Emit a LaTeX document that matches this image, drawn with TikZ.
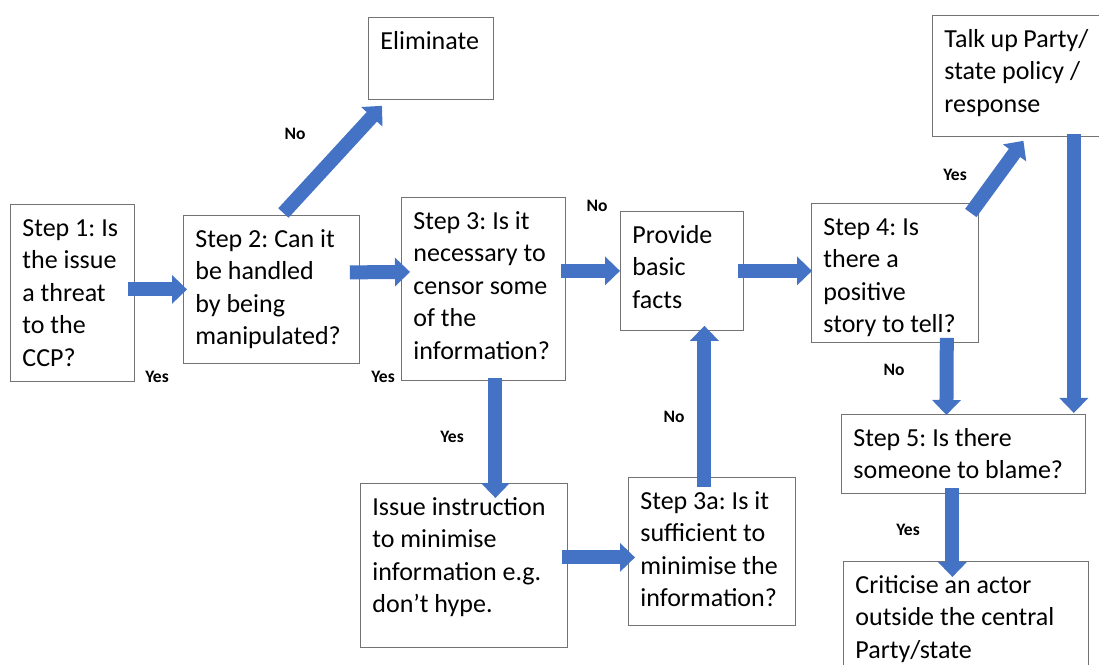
\documentclass[tikz,border=0pt]{standalone}
\usepackage{fontspec}
\setmainfont{Carlito}
\usetikzlibrary{arrows.meta}
\definecolor{arrowblue}{RGB}{68,114,196}
\frenchspacing
\begin{document}
\begin{tikzpicture}[x=1pt,y=1pt,
  box/.style 2 args={draw=black!55, line width=.8pt, anchor=north west, inner xsep=12pt, inner ysep=9pt,
    font=\fontsize{26}{32.5}\selectfont,
    execute at begin node={\begin{minipage}[t][#2][t]{#1}\raggedright\strut},
    execute at end node={\end{minipage}}},
  flow/.style={draw=arrowblue, line width=14pt, -{Triangle[length=15pt,width=28pt]}},
  lab/.style={font=\fontsize{17.5}{19}\selectfont\bfseries}]
\clip (0,0) rectangle (1099,664);
% boxes
\node[box={100pt}{159pt}] (s1) at (10,460) {Step 1: Is\\the issue\\a threat\\to the\\CCP?};
\node[box={152pt}{130pt}] (s2) at (183,449) {Step 2: Can it\\be handled\\by being\\manipulated?};
\node[box={101pt}{64pt}] (elim) at (368,647) {Eliminate};
\node[box={140pt}{165pt}] (s3) at (401,467) {Step 3: Is it\\necessary to\\censor some\\of the\\information?};
\node[box={99pt}{101pt}] (facts) at (620,453) {Provide\\basic\\facts};
\node[box={143pt}{121pt}] (s4) at (811,461) {Step 4: Is\\there a\\positive\\story to tell?};
\node[box={144pt}{103pt}] (talk) at (932,649) {Talk up Party/\\state policy /\\response};
\node[box={183pt}{146pt}] (instr) at (360,181) {Issue instruction\\to minimise\\information e.g.\\don’t hype.};
\node[box={143pt}{130pt}] (s3a) at (628,187) {Step 3a: Is it\\sufficient to\\minimise the\\information?};
\node[box={220pt}{61pt}] (s5) at (841,250) {Step 5: Is there\\someone to blame?};
\node[box={221pt}{107pt}] (crit) at (843,103) {Criticise an actor\\outside the central\\Party/state};
% arrows
\draw[flow] ([xshift=-7pt]s1.east |- s2.west) -- ([xshift=4pt]s2.west);
\draw[flow] ([xshift=-10pt,yshift=17pt]s2.east) -- ([xshift=9pt,yshift=17pt]s3.west);
\draw[flow] ([xshift=12pt,yshift=2pt]s2.north) -- ([xshift=14pt,yshift=-6pt]elim.south west);
\draw[flow] ([xshift=-5pt]s3.east |- facts.west) -- (facts.west);
\draw[flow] ([xshift=-6pt]facts.east) -- ([xshift=1pt]s4.west |- facts.east);
\draw[flow] ([xshift=12pt,yshift=3pt]s3.south) -- ([xshift=31.5pt,yshift=-15pt]instr.north);
\draw[flow] ([xshift=-6pt,yshift=8pt]instr.east) -- ([xshift=7pt,yshift=-6pt]s3a.west);
\draw[flow] ([xshift=-7.5pt,yshift=-10pt]s3a.north) -- ([xshift=22.5pt,yshift=5pt]facts.south);
\draw[flow] ([xshift=-8pt,yshift=-10pt]s4.north east) -- ([xshift=7pt,yshift=-4pt]talk.south);
\draw[flow] ([xshift=-32pt,yshift=5pt]s4.south east) -- ([xshift=-17pt,yshift=-1pt]s5.north);
\draw[flow] ([xshift=-27pt,yshift=3pt]talk.south east) -- ([xshift=-12pt,yshift=1pt]s5.north east);
\draw[flow] ([xshift=-11pt,yshift=6pt]s5.south) -- ([xshift=-13.5pt,yshift=-16pt]crit.north);
% labels
\node[lab] (y1) at (157,287) {Yes};
\node[lab] (y2) at (383,287) {Yes};
\node[lab] (n1) at (295,530) {No};
\node[lab] (n2) at (597,458) {No};
\node[lab] (y3) at (452,227) {Yes};
\node[lab] (n3) at (674,247) {No};
\node[lab] (y4) at (955,489) {Yes};
\node[lab] (n4) at (894,294) {No};
\node[lab] (y5) at (908,134) {Yes};
\end{tikzpicture}
\end{document}
